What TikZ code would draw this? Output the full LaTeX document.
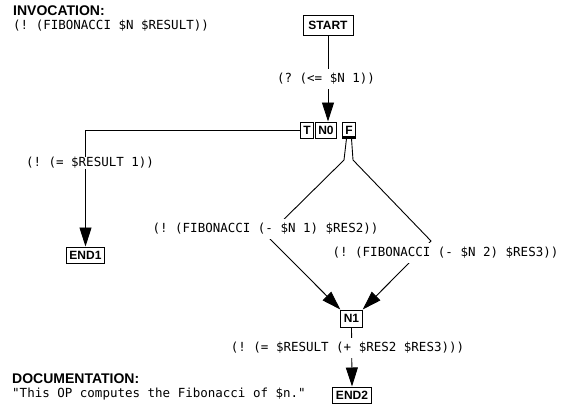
\documentclass[tikz,border=0pt]{standalone}
\usepackage{fontspec}
\setmainfont{Liberation Sans}
\setmonofont{DejaVu Sans Mono}
\usetikzlibrary{arrows.meta}
\begin{document}
\begin{tikzpicture}[x=1pt,y=-1pt,
  box/.style={draw,line width=1pt,font=\fontsize{12}{12}\selectfont\bfseries,inner xsep=3pt,inner ysep=0pt,minimum height=16pt},
  code/.style={font=\fontsize{12.5}{13}\selectfont\ttfamily,inner sep=0pt},
  lbl/.style={code,fill=white,inner xsep=1pt,inner ysep=4pt},
  title/.style={font=\fontsize{14}{14}\selectfont\bfseries,inner sep=0pt},
  arr/.style={line width=0.9pt,-{Triangle[length=19pt,width=12pt]}}]
\useasboundingbox[fill=white] (0,0) rectangle (562,413);
% titles
\node[title,anchor=base west] (invt) at (13,15) {INVOCATION:};
\node[code,anchor=base west] (invc) at (13,29) {(! (FIBONACCI \$N \$RESULT))};
\node[title,anchor=base west] (doct) at (12,383) {DOCUMENTATION:};
\node[code,anchor=base west] (docc) at (12,397) {"This OP computes the Fibonacci of \$n."};
% boxes
\node[box,minimum width=50pt,minimum height=20pt] (start) at (328,25) {START};
\node[box] (t) at (307,130) {T};
\node[box] (n0) at (326,130) {N0};
\node[box] (f) at (349,130) {F};
\fill (f.south west) rectangle ([yshift=3pt]f.south east);
\node[box] (end1) at (85.5,255) {END1};
\node[box,minimum height=17pt] (n1) at (351.5,318.5) {N1};
\node[box] (end2) at (352,395) {END2};
% connectors
\draw[arr] (start.south) -- (start.south |- n0.north);
\draw[arr] (t.west) -| (end1.north);
\coordinate (fa) at (344,160);
\coordinate (fb) at (267,236);
\coordinate (ga) at (353,160);
\coordinate (gb) at (431,241);
\draw[arr] ([xshift=-2.5pt]f.south) -- (fa) -- (fb) -- (n1.north west);
\draw[arr] ([xshift=2.5pt]f.south) -- (ga) -- (gb) -- (n1.north east);
\draw[arr] (n1.south) -- (end2.north);
% labels
\node[lbl] (l0) at (326,79) {(? (<= \$N 1))};
\node[lbl,inner ysep=0pt] (l1) at (90,163) {(! (= \$RESULT 1))};
\node[lbl] (l2) at (265.5,229) {(! (FIBONACCI (- \$N 1) \$RES2))};
\node[lbl] (l3) at (445.5,253) {(! (FIBONACCI (- \$N 2) \$RES3))};
\node[lbl] (l4) at (347.5,348) {(! (= \$RESULT (+ \$RES2 \$RES3)))};
\end{tikzpicture}
\end{document}
